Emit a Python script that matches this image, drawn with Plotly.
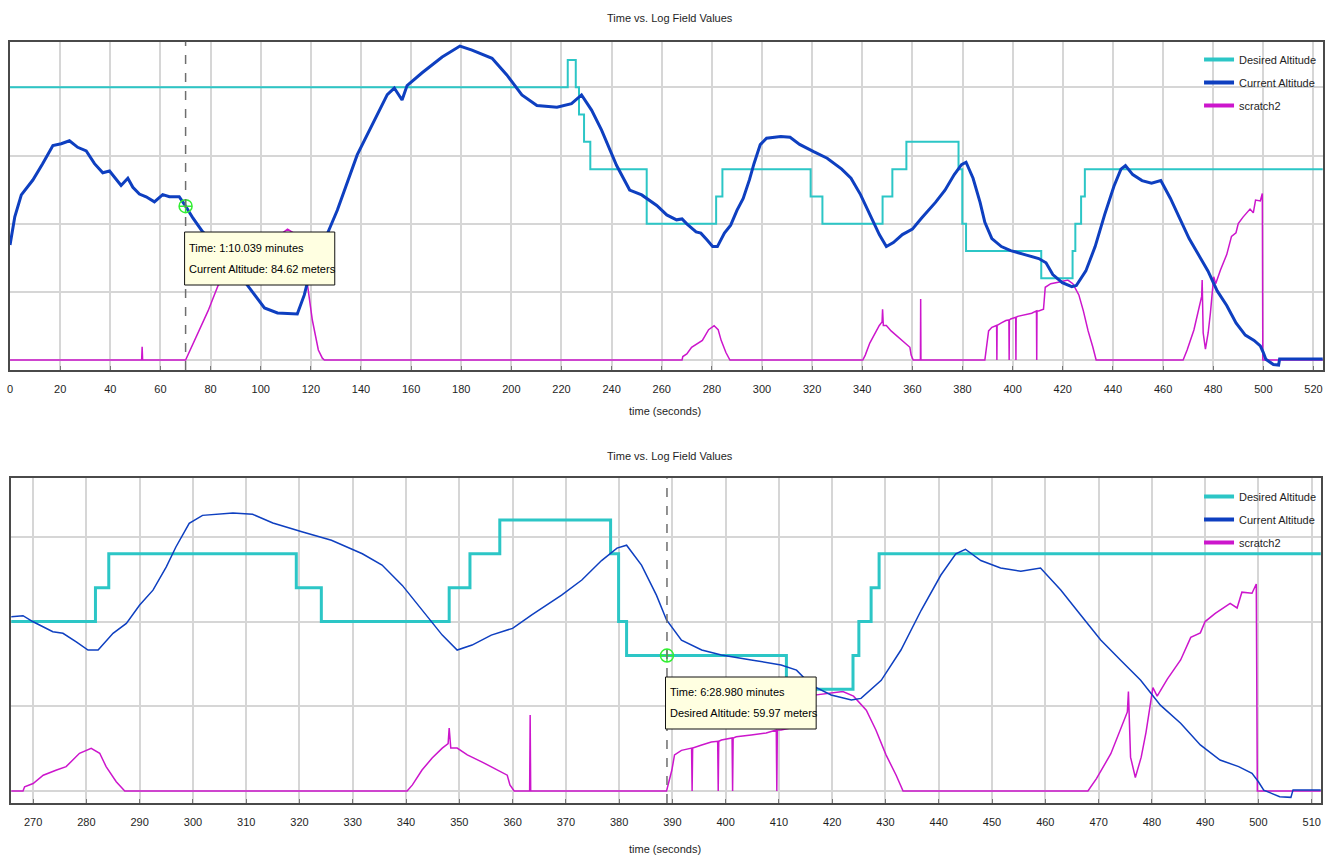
import plotly.graph_objects as go

# ---------------- data ----------------
desired_t = [0, 222.5, 225.7, 227.0, 229.0, 231.5, 254.0, 281.7, 284.2, 319.4, 324.1,
             348.1, 352.0, 357.6, 378.4, 379.9, 381.4, 411.4, 423.9, 425.0, 427.3, 428.8, 524]
desired_v = [150, 165, 150, 135, 120, 105, 75, 90, 105, 90, 75,
             90, 105, 120, 105, 75, 60, 45, 60, 75, 90, 105, 105]

current_t = [0, 1.9, 4.5, 9.1, 13, 17.1, 20.4, 23.7, 27, 30.4,
             33.7, 37, 39.7, 42, 44.3, 47, 49, 51.6, 54.3, 57.6,
             60.9, 63.6, 67.5, 70.04, 73, 76.8, 82.8, 88.8, 94.7, 101.5,
             106.7, 114.6, 117.4, 120, 124.6, 130.6, 138.5, 144.5, 150.5, 153.3,
             156.4, 158.4, 164.4, 172.4, 179.5, 184.3, 192.3, 198.2, 204.2, 210.2,
             218.2, 224, 228, 232, 236, 242, 247.2, 252, 258, 262,
             265.9, 268.1, 270, 273.7, 275.6, 278.1, 280.3, 282.2, 285, 287.5,
             290, 292.5, 295, 296.8, 299.3, 301.8, 307.5, 311.2, 315, 320.6,
             326, 331.8, 335.5, 339.3, 343, 346.8, 349.6, 352.4, 356, 360,
             363.6, 369.2, 373, 376.7, 379.6, 381.4, 384.2, 387, 388.9, 391.7,
             395.5, 399.2, 404.8, 410.4, 413.3, 416, 419.8, 423.6, 425.4, 429.2,
             432.9, 436.7, 440.4, 443.2, 445, 447.9, 451.6, 455.4, 459.1, 462.9,
             466.6, 470.4, 474.1, 477.9, 481.6, 485.4, 489.1, 492.8, 496.3, 498.8,
             500, 501, 504, 506.1, 506.5, 524]
current_v = [63.3, 78.8, 90.8, 99, 108, 118, 119, 120.6, 117, 115,
             108, 103, 104, 100, 96, 100, 95, 91.3, 89.8, 87,
             91, 89.8, 89.8, 84.62, 78, 70.6, 63, 52, 41, 28.6,
             25.9, 25.3, 35.8, 50, 63, 82.5, 112.8, 129, 146, 149.6,
             143, 151, 158, 166.7, 172.7, 170.5, 166, 156.8, 145.8, 140,
             139, 141, 145.8, 137.5, 126.5, 107, 93.5, 90.8, 85, 79.8,
             77.1, 77.6, 74.9, 70.5, 69.8, 66, 62.4, 62.4, 69.8, 74.2,
             82.3, 88.9, 99.2, 108, 118.5, 122, 123, 122.5, 118.6, 114.6,
             111, 105, 100, 91, 80, 69, 62.4, 64.6, 69, 72,
             78, 86.7, 93.4, 102, 107.5, 108.8, 100, 86.7, 75.7, 66.8,
             62.4, 60.2, 58, 55.8, 53.5, 47, 42.5, 40.3, 41, 49,
             62.4, 80, 95.6, 105, 107, 102, 98.7, 97.3, 98.7, 89,
             78, 66.8, 58, 49, 38, 30, 20.4, 13.7, 10.8, 7.8,
             4.1, 0.4, -2.5, -2.8, 0.5, 0.5]

scratch_t = [0, 52.5, 52.7, 52.9, 70.04, 72, 74.2, 76, 79, 83,
             87, 91, 95, 100, 105, 110.7, 113, 116, 118.7, 120.6,
             123, 124.6, 125.4, 268.1, 268.4, 270, 271.9, 274.4, 276.2, 278.7,
             280.9, 282.5, 283.7, 285.6, 287.2, 340.2, 341.2, 343, 344.9, 346.8,
             347.9, 348.1, 348.4, 349.6, 351.5, 354.3, 357.1, 359, 359.5, 360.3,
             363.2, 363.3, 363.4, 388.9, 389.9, 390.4, 391.7, 393.6, 393.7, 393.8,
             395.5, 397.3, 398.5, 398.6, 398.7, 399.2, 401.2, 401.3, 401.4, 402,
             404.8, 407.6, 409.5, 409.6, 409.7, 410.4, 412.3, 413, 415.2, 419.2,
             422, 424, 426.4, 428.2, 430.1, 432, 433.3, 468, 469.6, 472.3,
             474.2, 475.4, 475.6, 476.0, 476.9, 478.0, 478.9, 480.2, 481, 482.9,
             485.4, 487.3, 489.1, 490, 491.9, 494.7, 496, 496.9, 498.8, 499.6,
             499.8, 524]
scratch_v = [0, 0, 7.3, 0, 0, 6, 12, 18, 27, 41,
             46, 50, 55, 61, 66, 72, 70, 58, 41, 22,
             5.5, 1, 0, 0, 1.9, 3.3, 7, 9.3, 10.8, 16.7,
             18.9, 16.7, 10.8, 4.1, 0, 0, 2.7, 9.3, 14.6, 19,
             21, 27.9, 19, 19, 16, 12.8, 9.3, 7, 2.7, 0,
             0, 33.6, 0, 0, 9.3, 16, 18, 19, 0, 19,
             20.4, 21.7, 22, 0, 22, 22.6, 23.5, 0, 23.5, 24,
             24.8, 25.7, 27, 0, 27, 27, 27.9, 40, 42, 43,
             44, 42, 35.8, 27, 16, 7, 0, 0, 5.5, 16.5,
             27.5, 35, 44, 15, 6, 15, 26, 45.8, 42, 49.5,
             58, 68, 70, 75, 78.6, 83, 81, 88, 87.5, 91.6,
             0, 0]

series_names = ["Desired Altitude", "Current Altitude", "scratch2"]
chart_title = "Time vs. Log Field Values"
x_title = "time (seconds)"
cursor_top = (70.039, 84.62)
cursor_bottom = (388.98, 59.97)
tip_top = ["Time: 1:10.039 minutes", "Current Altitude: 84.62 meters"]
tip_bottom = ["Time: 6:28.980 minutes", "Desired Altitude: 59.97 meters"]

assert len(desired_t) == len(desired_v)
assert len(current_t) == len(current_v)
assert len(scratch_t) == len(scratch_v)

# ---------------- style ----------------
W, H = 1336, 857
FONT = "Liberation Sans, Arial, sans-serif"
C_DES = "#2CC6C6"
C_CUR = "#0E3FC0"
C_SCR = "#CC16CC"
GRID = "#D6D6D6"
FRAME = "#4A4A4A"
TXT = "#1E1E1E"


def px(x):
    return x / W


def py(y):
    return 1 - y / H


fig = go.Figure()

panels = [
    dict(xa="x", ya="y", leg="legend", wd=(2, 3, 1.5)),
    dict(xa="x2", ya="y2", leg="legend2", wd=(3, 1.5, 1.5)),
]

for p in panels:
    wd_des, wd_cur, wd_scr = p["wd"]
    fig.add_trace(go.Scatter(x=scratch_t, y=scratch_v, mode="lines", xaxis=p["xa"], yaxis=p["ya"],
                             line=dict(color=C_SCR, width=wd_scr), showlegend=False, name=series_names[2]))
    fig.add_trace(go.Scatter(x=desired_t, y=desired_v, mode="lines", xaxis=p["xa"], yaxis=p["ya"],
                             line=dict(color=C_DES, width=wd_des, shape="hv"), showlegend=False,
                             name=series_names[0]))
    fig.add_trace(go.Scatter(x=current_t, y=current_v, mode="lines", xaxis=p["xa"], yaxis=p["ya"],
                             line=dict(color=C_CUR, width=wd_cur), showlegend=False, name=series_names[1]))
    # legend entries (thick samples as in the original)
    for i, (nm, col) in enumerate(zip(series_names, [C_DES, C_CUR, C_SCR])):
        fig.add_trace(go.Scatter(x=[None], y=[None], mode="lines", xaxis=p["xa"], yaxis=p["ya"],
                                 line=dict(color=col, width=4), name=nm, legend=p["leg"],
                                 legendgroup=p["leg"] + str(i), legendrank=i + 1))

# cursor markers
for (cx, cy), xa, ya in [(cursor_top, "x", "y"), (cursor_bottom, "x2", "y2")]:
    fig.add_trace(go.Scatter(x=[cx], y=[cy], mode="markers", xaxis=xa, yaxis=ya, showlegend=False,
                             marker=dict(symbol="circle-cross-open", size=13, color="#33EE33",
                                         line=dict(width=1.5, color="#33EE33"))))

axis_common = dict(showgrid=True, gridcolor=GRID, gridwidth=1.5, zeroline=False,
                   showline=True, linecolor=FRAME, linewidth=2, mirror=True,
                   tickfont=dict(family=FONT, size=11, color=TXT))

fig.update_layout(
    width=W, height=H, margin=dict(l=0, r=0, t=0, b=0),
    paper_bgcolor="white", plot_bgcolor="white",
    font=dict(family=FONT, size=11, color=TXT),
    xaxis=dict(domain=[px(6.7), px(1322.7)], range=[-0.14, 523.7], anchor="y",
               tick0=0, dtick=20, ticks="inside", ticklen=4, tickcolor="#777",
               ticklabelstandoff=8, **axis_common),
    yaxis=dict(domain=[py(370), py(41.7)], range=[-5.5, 175.1], anchor="x",
               tick0=0, dtick=37.5, showticklabels=False, ticks="", **axis_common),
    xaxis2=dict(domain=[px(8.3), px(1320.7)], range=[265.9, 511.7], anchor="y2",
                tick0=0, dtick=10, ticks="inside", ticklen=4, tickcolor="#777",
                ticklabelstandoff=8, **axis_common),
    yaxis2=dict(domain=[py(803), py(478.3)], range=[-5.3, 138.4], anchor="x2",
                tick0=0, dtick=37.5, showticklabels=False, ticks="", **axis_common),
    legend=dict(x=px(1322), xanchor="right", y=py(45), yanchor="top", bgcolor="rgba(0,0,0,0)",
                font=dict(family=FONT, size=11, color=TXT), tracegroupgap=4, itemwidth=30),
    legend2=dict(x=px(1322), xanchor="right", y=py(482), yanchor="top", bgcolor="rgba(0,0,0,0)",
                 font=dict(family=FONT, size=11, color=TXT), tracegroupgap=4, itemwidth=30),
    showlegend=True,
)

annotations = []
shapes = []
for ty, ay in [(18, 411), (456, 849)]:
    annotations.append(dict(text=chart_title, x=0.5, y=py(ty), xref="paper", yref="paper",
                            showarrow=False, xanchor="center", yanchor="middle",
                            font=dict(family=FONT, size=11, color=TXT)))
    annotations.append(dict(text=x_title, x=px(663.5), y=py(ay), xref="paper", yref="paper",
                            showarrow=False, xanchor="center", yanchor="middle",
                            font=dict(family=FONT, size=11, color=TXT)))

# dashed cursor lines
for cx, xa, yd in [(cursor_top[0], "x", "y domain"), (cursor_bottom[0], "x2", "y2 domain")]:
    shapes.append(dict(type="line", xref=xa, yref=yd, x0=cx, x1=cx, y0=0, y1=1,
                       line=dict(color="#6E6E6E", width=1.5, dash="dash"), layer="above"))

# tooltip boxes
for (x0, y0, x1, y1), lines, ly in [((182, 232, 332.5, 285), tip_top, (248, 268.5)),
                                    ((664, 677, 815, 729), tip_bottom, (692, 712.5))]:
    shapes.append(dict(type="rect", xref="paper", yref="paper", x0=px(x0), x1=px(x1),
                       y0=py(y1), y1=py(y0), fillcolor="#FFFFE1",
                       line=dict(color="#111", width=1), layer="above"))
    for txt, yy in zip(lines, ly):
        annotations.append(dict(text=txt, x=px(x0 + 2.5), y=py(yy), xref="paper", yref="paper",
                                showarrow=False, xanchor="left", yanchor="middle", align="left",
                                font=dict(family=FONT, size=11, color="#000")))

fig.update_layout(annotations=annotations, shapes=shapes)

fig.write_html("out.html", config={"displayModeBar": False},
               post_script="document.body.style.margin='0';document.body.style.overflow='hidden';")
